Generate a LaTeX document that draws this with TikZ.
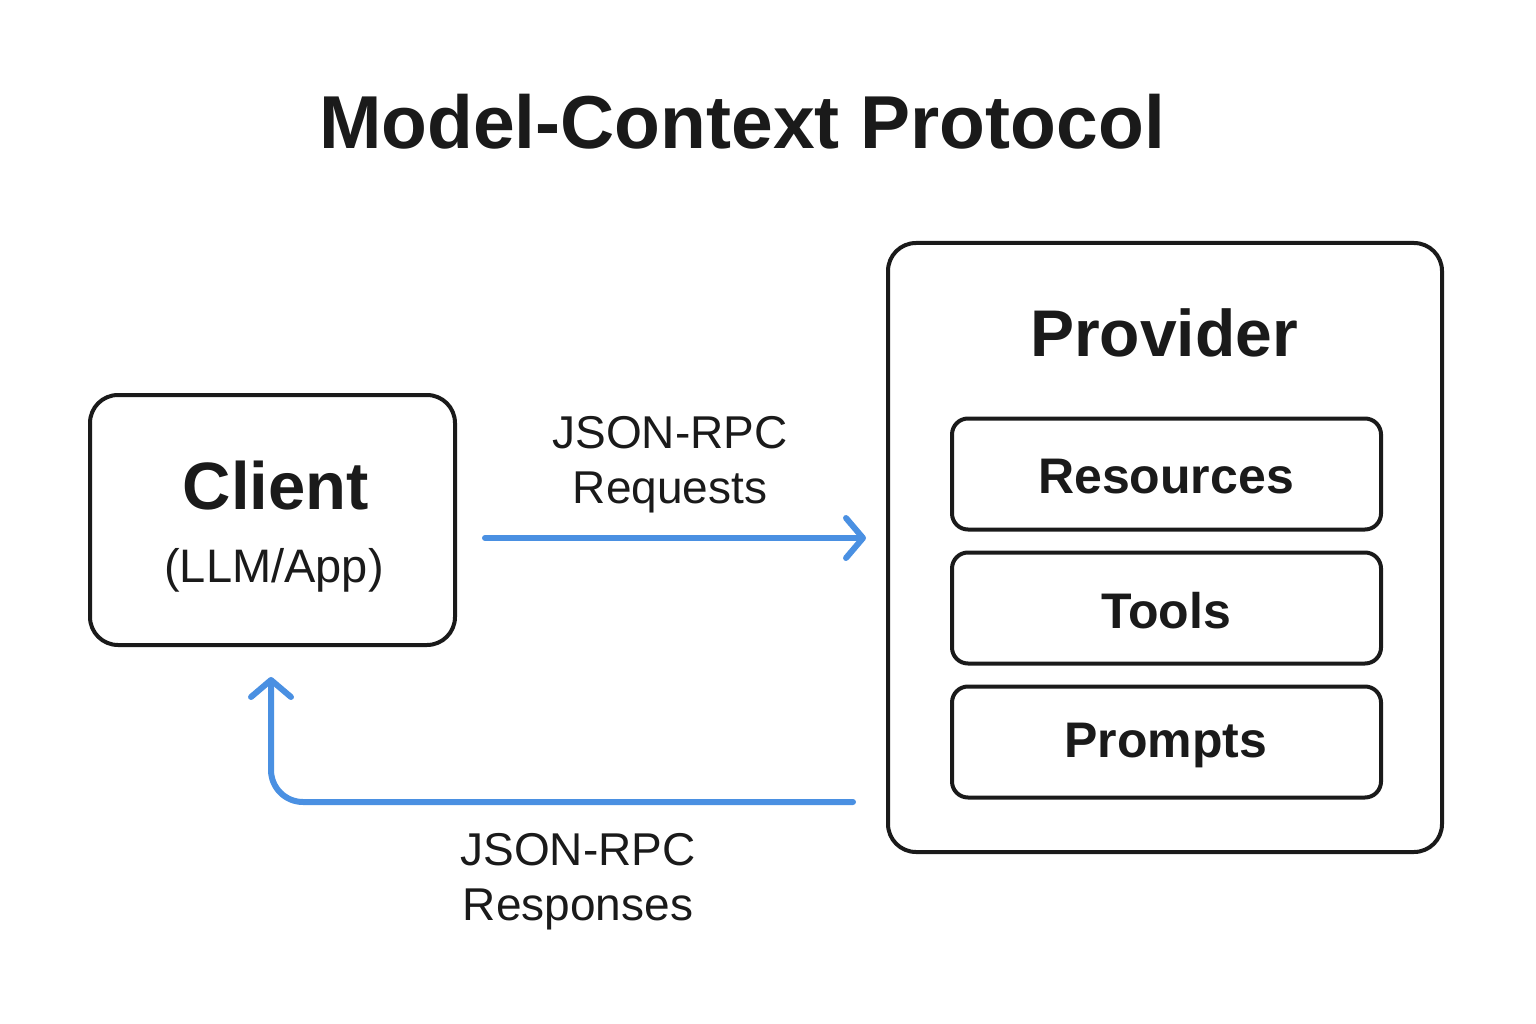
\documentclass[tikz,border=0pt]{standalone}
\usepackage{fontspec}
\setmainfont{Liberation Sans}
\usetikzlibrary{arrows.meta}
\definecolor{ink}{HTML}{1A1A1A}
\definecolor{flow}{HTML}{4A90E2}
\tikzset{
  outerbox/.style={draw=ink, line width=4pt, rounded corners=28pt, fill=white, inner sep=0pt},
  itembox/.style={draw=ink, line width=4pt, rounded corners=16pt, minimum width=429pt, minimum height=111pt},
  itemtext/.style={text=ink, font=\bfseries\fontsize{50}{60}\selectfont},
  flowarrow/.style={draw=flow, line width=6pt, line cap=round, line join=round, -{Straight Barb[length=17pt,width=40pt,line cap=round,line join=round]}},
  lbl/.style={text=ink, align=center, font=\fontsize{46}{55}\selectfont},
}
\begin{document}
\begin{tikzpicture}[x=1pt,y=-1pt]
\useasboundingbox (0,0) rectangle (1536,1024);
\node[text=ink, font=\bfseries\fontsize{75}{80}\selectfont] (title) at (742,122) {Model-Context Protocol};
% client
\node[outerbox, minimum width=365pt, minimum height=250pt] (client) at (272.5,520) {};
\node[text=ink, font=\bfseries\fontsize{67}{70}\selectfont] (clientT) at (276,486) {Client};
\node[text=ink, font=\fontsize{47}{50}\selectfont] (clientS) at (274,570) {(LLM/App)};
% provider
\node[outerbox, minimum width=554pt, minimum height=609pt] (provider) at (1165,547.5) {};
\node[text=ink, font=\bfseries\fontsize{66}{70}\selectfont] (providerT) at (1164,333) {Provider};
\node[itembox] (res) at (1166.5,474) {};
\node[itembox] (tools) at (1166.5,608) {};
\node[itembox] (prompts) at (1166.5,742) {};
\node[itemtext] (resT) at (1166,477) {Resources};
\node[itemtext] (toolsT) at (1166,611) {Tools};
\node[itemtext] (promptsT) at (1166,745) {Prompts};
% arrows
\coordinate (reqS) at (485,538);
\coordinate (reqE) at (866,538);
\draw[flowarrow] (reqS) -- (reqE);
\coordinate (resS) at (853,802);
\coordinate (resE) at (271,677);
\draw[flowarrow, rounded corners=32pt] (resS) -| (resE);
\node[lbl] (reqL) at (670,465) {JSON-RPC\\Requests};
\node[lbl] (resL) at (578,882) {JSON-RPC\\Responses};
\end{tikzpicture}
\end{document}
